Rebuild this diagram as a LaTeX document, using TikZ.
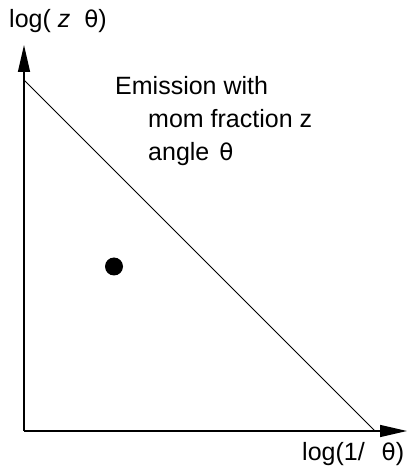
\documentclass[tikz,border=0pt]{standalone}
\usepackage{fontspec}
\setmainfont{Liberation Sans}
\newfontfamily\thetafont{DejaVu Sans}
\newcommand{\thg}{{\thetafont\fontsize{23}{28}\selectfont θ}}
\usetikzlibrary{arrows.meta}
\begin{document}
\begin{tikzpicture}[x=1pt,y=1pt,
  axis/.style={line width=1.4pt,-{Triangle[length=27pt,width=12pt]}},
  lbl/.style={anchor=base west,inner sep=0pt,font=\fontsize{25}{30}\selectfont}]
\useasboundingbox (0,0) rectangle (412,469);
\coordinate (O) at (24,38);
\coordinate (ytip) at (24,424);
\coordinate (xtip) at (407,38);
\coordinate (d1) at (24,389);
\coordinate (d2) at (375,38);
\draw[axis] (O) -- (ytip);
\draw[axis] (O) -- (xtip);
\draw[line width=0.8pt] (d1) -- (d2);
\fill (114,202.5) circle[radius=9pt];
\node[lbl] (ylab) at (9,441) {log( \textit{z} \hspace{7pt}\thg)};
\node[lbl] (xlab) at (302,9) {log(1/ \hspace{10pt}\thg)};
\node[lbl] (t1) at (115,374) {Emission with};
\node[lbl] (t2) at (148,341) {mom fraction z};
\node[lbl] (t3) at (148,308) {angle \hspace{3pt}\thg};
\end{tikzpicture}
\end{document}
